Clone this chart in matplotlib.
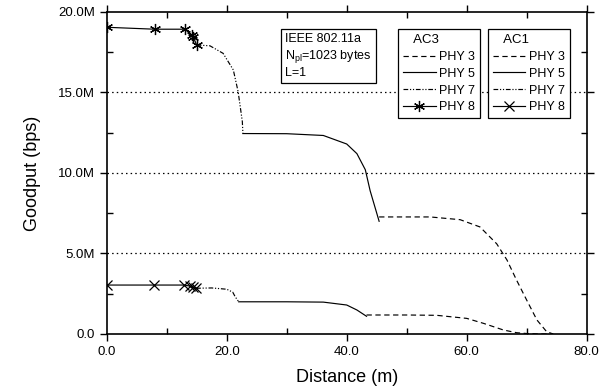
import matplotlib
matplotlib.use("Agg")
import matplotlib.pyplot as plt
from matplotlib.lines import Line2D
from matplotlib.ticker import MultipleLocator, FuncFormatter

plt.rcParams['font.family'] = ['Liberation Sans', 'DejaVu Sans']
plt.rcParams['mathtext.default'] = 'regular'

# AC3 curve, in pieces (distance m, goodput Mbps)
ac3_phy8_x = [0, 8.0, 13.0, 14.2, 14.4, 15.0]
ac3_phy8_y = [19.05, 18.93, 18.93, 18.57, 18.46, 17.95]
ac3_phy7_x = [15.0, 17.2, 19.4, 21.1, 21.9, 22.6, 22.7]
ac3_phy7_y = [17.95, 17.9, 17.43, 16.4, 15.05, 13.2, 12.45]
ac3_phy5_x = [22.7, 30.0, 36.1, 40.0, 41.7, 43.1, 43.9, 45.4]
ac3_phy5_y = [12.45, 12.44, 12.33, 11.8, 11.2, 10.2, 8.9, 7.0]
ac3_phy3_x = [45.4, 50.0, 53.9, 58.9, 62.2, 65.0, 66.7, 68.3, 70.0, 71.7, 73.3, 74.4]
ac3_phy3_y = [7.27, 7.27, 7.27, 7.1, 6.65, 5.6, 4.6, 3.35, 2.1, 0.87, 0.15, 0.0]

# AC1 curve
ac1_phy8_x = [0, 7.9, 12.9, 13.8, 14.3, 14.9]
ac1_phy8_y = [3.04, 3.04, 3.04, 2.98, 2.9, 2.84]
ac1_phy7_x = [14.9, 17.5, 20.0, 21.0, 21.4, 22.0]
ac1_phy7_y = [2.84, 2.86, 2.78, 2.6, 2.32, 2.0]
ac1_phy5_x = [22.0, 30.0, 36.1, 40.0, 41.7, 43.3]
ac1_phy5_y = [2.0, 2.0, 1.98, 1.8, 1.49, 1.1]
ac1_phy3_x = [43.3, 50.0, 55.0, 60.0, 62.8, 66.1, 68.3, 70.0, 72.0, 74.4]
ac1_phy3_y = [1.18, 1.18, 1.16, 0.97, 0.66, 0.25, 0.08, 0.03, 0.0, 0.0]

phy_labels = ['PHY 3', 'PHY 5', 'PHY 7', 'PHY 8']

fig = plt.figure(figsize=(6.14, 3.89), dpi=100)
ax = fig.add_axes([0.1738, 0.1414, 0.7818, 0.8278])

lw = 0.85
star = (6, 2, 0)
dashdot = (0, (4, 1.5, 1, 1.5, 1, 1.5))
dashed = (0, (4.5, 3))
ax.plot(ac3_phy8_x, ac3_phy8_y, color='black', lw=lw, marker=star, ms=8, mew=0.9)
ax.plot(ac3_phy7_x, ac3_phy7_y, color='black', lw=lw, linestyle=dashdot)
ax.plot(ac3_phy5_x, ac3_phy5_y, color='black', lw=lw)
ax.plot(ac3_phy3_x, ac3_phy3_y, color='black', lw=lw, linestyle=dashed)

ax.plot(ac1_phy8_x, ac1_phy8_y, color='black', lw=lw, marker='x', ms=6.5, mew=0.9)
ax.plot(ac1_phy7_x, ac1_phy7_y, color='black', lw=lw, linestyle=dashdot)
ax.plot(ac1_phy5_x, ac1_phy5_y, color='black', lw=lw)
ax.plot(ac1_phy3_x, ac1_phy3_y, color='black', lw=lw, linestyle=dashed)

# dotted grid lines
for g in [5, 10, 15]:
    ax.axhline(g, color='black', lw=0.9, linestyle=(0, (1.2, 2.5)), zorder=0)

ax.set_xlim(0, 80)
ax.set_ylim(0, 20)
ax.xaxis.set_major_locator(MultipleLocator(20))
ax.xaxis.set_minor_locator(MultipleLocator(10))
ax.yaxis.set_major_locator(MultipleLocator(5))
ax.yaxis.set_minor_locator(MultipleLocator(2.5))
ax.xaxis.set_major_formatter(FuncFormatter(lambda v, p: "%.1f" % v))
ax.yaxis.set_major_formatter(FuncFormatter(lambda v, p: "0.0" if v == 0 else "%.1fM" % v))
ax.tick_params(which='major', direction='out', length=5, width=1, labelsize=9.5, top=True, right=True)
ax.tick_params(which='minor', direction='in', length=4, width=1, top=True, right=True)
for s in ax.spines.values():
    s.set_linewidth(1.2)

ax.set_xlabel("Distance (m)", fontsize=13, labelpad=8)
ax.set_ylabel("Goodput (bps)", fontsize=13, labelpad=12)

# info box
ax.text(0.372, 0.935, "IEEE 802.11a\nN$_{pl}$=1023 bytes\nL=1", transform=ax.transAxes,
        fontsize=9, va='top', ha='left', linespacing=1.25,
        bbox=dict(boxstyle='square,pad=0.35', fc='white', ec='black', lw=0.9))

styles = [dashed, '-', dashdot, '-']
h3 = [Line2D([], [], color='black', lw=lw, linestyle=s) for s in styles]
h3[3] = Line2D([], [], color='black', lw=lw, marker=star, ms=8, mew=0.9)
h1 = [Line2D([], [], color='black', lw=lw, linestyle=s) for s in styles]
h1[3] = Line2D([], [], color='black', lw=lw, marker='x', ms=6.5, mew=0.9)

leg_kw = dict(fontsize=9, title_fontsize=9.5, frameon=True, fancybox=False, edgecolor='black',
              framealpha=1, handlelength=2.6, handletextpad=0.3, labelspacing=0.38,
              borderpad=0.4, borderaxespad=0, alignment='left', loc='upper left')
leg3 = ax.legend(h3, phy_labels, title="   AC3", bbox_to_anchor=(0.607, 0.946), **leg_kw)
leg3.get_frame().set_linewidth(0.9)
ax.add_artist(leg3)
leg1 = ax.legend(h1, phy_labels, title="   AC1", bbox_to_anchor=(0.794, 0.946), **leg_kw)
leg1.get_frame().set_linewidth(0.9)

fig.savefig("out.png", dpi=100)
